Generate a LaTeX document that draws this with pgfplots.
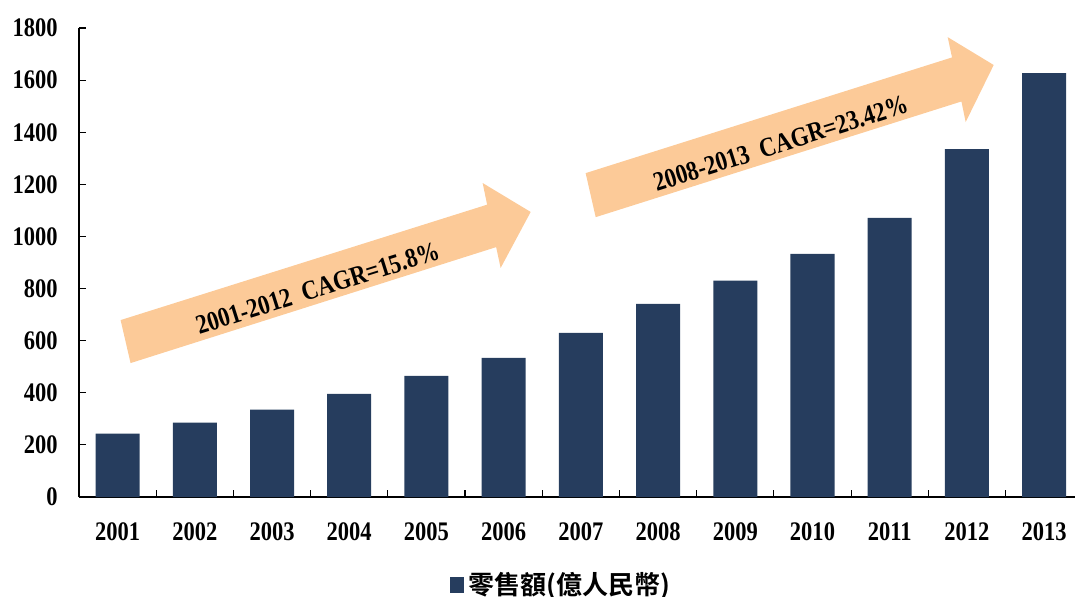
\documentclass[border=0pt]{standalone}
\usepackage{fontspec}
\setmainfont{Liberation Serif}[FakeStretch=0.84]
\newfontfamily\cjk{Noto Sans CJK TC}[BoldFont={Noto Sans CJK TC Bold}]
\usepackage{pgfplots}
\pgfplotsset{compat=1.18}
\definecolor{barcol}{RGB}{38,61,94}
\definecolor{arrcol}{RGB}{252,202,152}
\begin{document}
\begin{tikzpicture}
\begin{axis}[
  scale only axis, width=498pt, height=234.5pt,
  xmin=-0.5, xmax=12.4, ymin=0, ymax=1800,
  clip=false,
  axis lines=left, axis line style={-, line width=0.6pt, black},
  ybar, bar width=0.57,
  xtick={0,...,12},
  xticklabels={2001,2002,2003,2004,2005,2006,2007,2008,2009,2010,2011,2012,2013},
  major x tick style={draw=none},
  minor xtick={0.5,1.5,...,11.5},
  ytick={0,200,...,1800},
  tick align=inside, major tick length=3.5pt, minor tick length=3.5pt,
  tick style={line width=0.6pt, black},
  /pgf/number format/assume math mode=true,
  /pgf/number format/1000 sep={},
  ticklabel style={font=\bfseries\fontsize{13.4}{15}\selectfont},
  yticklabel style={inner sep=0pt, xshift=-10.5pt},
  xticklabel style={inner sep=0pt, yshift=-12.5pt},
  legend style={draw=none, fill=none, at={(0.485,-0.188)}, anchor=center,
    font=\cjk\bfseries\fontsize{13}{15}\selectfont, inner sep=0pt},
]
\addplot[fill=barcol, draw=none,
  legend image code/.code={\fill[barcol] (0pt,-4pt) rectangle (7pt,4pt);}]
  coordinates {(0,243) (1,285) (2,335) (3,396) (4,465) (5,534) (6,630)
               (7,741) (8,830) (9,933) (10,1071) (11,1335) (12,1627)};
\addlegendentry{零售額(億人民幣)}
% arrows
\fill[arrcol] (axis cs:0.168,514) -- (axis cs:0.039,679) -- (axis cs:4.786,1122)
  -- (axis cs:4.728,1205) -- (axis cs:5.350,1094) -- (axis cs:4.961,879)
  -- (axis cs:4.903,959) -- cycle;
\fill[arrcol] (axis cs:6.192,1074) -- (axis cs:6.062,1243) -- (axis cs:10.807,1687)
  -- (axis cs:10.751,1765) -- (axis cs:11.347,1658) -- (axis cs:10.984,1439)
  -- (axis cs:10.929,1518) -- cycle;
\node[rotate=17.5, font=\bfseries\fontsize{13.6}{15}\selectfont] at (axis cs:2.591,801)
  {2001-2012\ \ CAGR=15.8\%};
\node[rotate=17.5, font=\bfseries\fontsize{13.6}{15}\selectfont] at (axis cs:8.588,1358)
  {2008-2013\ \ CAGR=23.42\%};
\coordinate (bl) at (axis cs:-1.523,-380);
\coordinate (tr) at (axis cs:12.4,1907.5);
\end{axis}
\pgfresetboundingbox
\path[use as bounding box] (bl) rectangle (tr);
\end{tikzpicture}
\end{document}
